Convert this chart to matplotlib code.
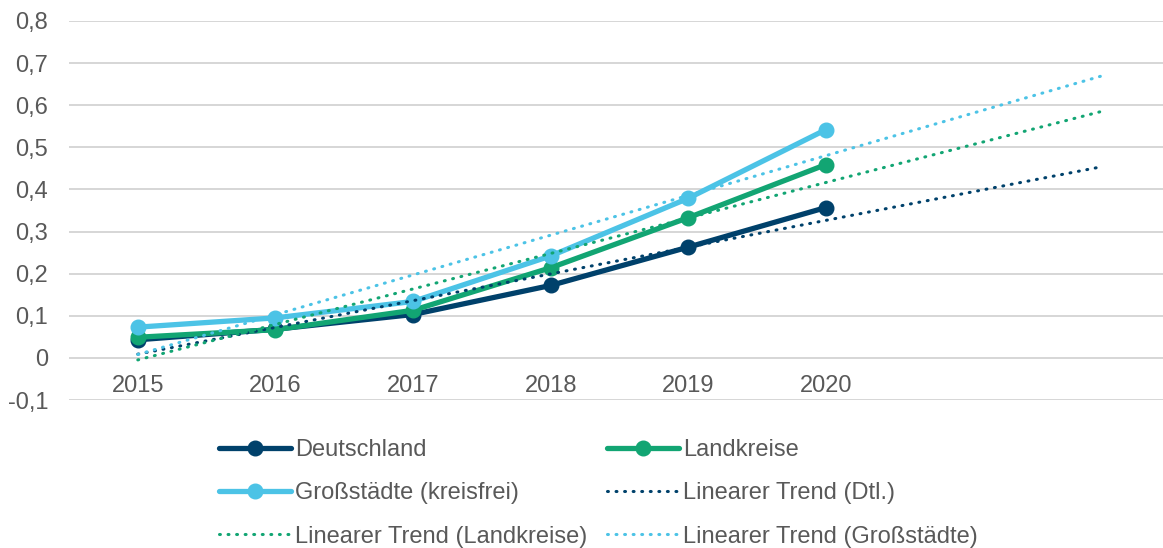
import numpy as np
import matplotlib
matplotlib.use('Agg')
import matplotlib.pyplot as plt
from matplotlib.ticker import FuncFormatter

plt.rcParams['font.family'] = ['Liberation Sans', 'DejaVu Sans']

# Werte je Jahr
years = ['2015', '2016', '2017', '2018', '2019', '2020']
deutschland = [0.043, 0.068, 0.103, 0.172, 0.263, 0.357]
landkreise = [0.049, 0.067, 0.113, 0.214, 0.333, 0.459]
grossstaedte = [0.073, 0.095, 0.134, 0.242, 0.379, 0.542]
forecast_periods = 2

c_dtl = '#00416b'
c_lk = '#12a573'
c_gs = '#4cc3e6'
text_col = '#595959'

x = np.arange(len(years))
x_trend = np.arange(len(years) + forecast_periods)

fig = plt.figure(figsize=(11.63, 5.48), dpi=100)
ax = fig.add_axes([69 / 1163, 148 / 548, (1163 - 69) / 1163, 379 / 548])

# Datenreihen
h_dtl, = ax.plot(x, deutschland, color=c_dtl, lw=3.8, marker='o', ms=10.5,
                 solid_capstyle='round', label='Deutschland', zorder=3)
h_lk, = ax.plot(x, landkreise, color=c_lk, lw=3.8, marker='o', ms=10.5,
                solid_capstyle='round', label='Landkreise', zorder=3)
h_gs, = ax.plot(x, grossstaedte, color=c_gs, lw=3.8, marker='o', ms=10.5,
                solid_capstyle='round', label='Großstädte (kreisfrei)', zorder=3)

# lineare Trends (Kleinste Quadrate), 2 Perioden fortgeschrieben
trend_handles = []
for vals, col, lab in [(deutschland, c_dtl, 'Linearer Trend (Dtl.)'),
                       (landkreise, c_lk, 'Linearer Trend (Landkreise)'),
                       (grossstaedte, c_gs, 'Linearer Trend (Großstädte)')]:
    a, b = np.polyfit(x, vals, 1)
    h, = ax.plot(x_trend, a * x_trend + b, color=col, lw=2.2,
                 dashes=(0.3, 2.5), dash_capstyle='round', label=lab, zorder=4)
    trend_handles.append(h)

ax.set_xlim(-0.5, 7.45)
ax.set_ylim(-0.1, 0.8)
ax.set_yticks(np.arange(-0.1, 0.81, 0.1))
ax.yaxis.set_major_formatter(FuncFormatter(
    lambda v, p: '0' if abs(v) < 1e-9 else f'{v:.1f}'.replace('.', ',')))
ax.set_xticks(x)
ax.set_xticklabels(years)

ax.grid(axis='y', color='#d6d6d6', lw=1.4)
ax.set_axisbelow(True)
for s in ['top', 'right', 'left']:
    ax.spines[s].set_visible(False)
ax.spines['bottom'].set_position(('data', 0))
ax.spines['bottom'].set_visible(False)
ax.tick_params(axis='both', length=0, labelsize=17, colors=text_col)
ax.tick_params(axis='x', pad=12)
ax.tick_params(axis='y', pad=15)

handles = [h_dtl, h_gs, trend_handles[1], h_lk, trend_handles[0], trend_handles[2]]
leg = fig.legend(handles=handles, labels=[h.get_label() for h in handles],
                 loc='upper left', bbox_to_anchor=(219 / 1163, 1 - 439 / 548),
                 ncol=2, frameon=False, fontsize=17, handlelength=3.05,
                 handletextpad=0.17, columnspacing=0.85, labelspacing=0.9,
                 borderpad=0, borderaxespad=0, numpoints=1)
for t in leg.get_texts():
    t.set_color(text_col)

fig.savefig('out.png', dpi=100)
